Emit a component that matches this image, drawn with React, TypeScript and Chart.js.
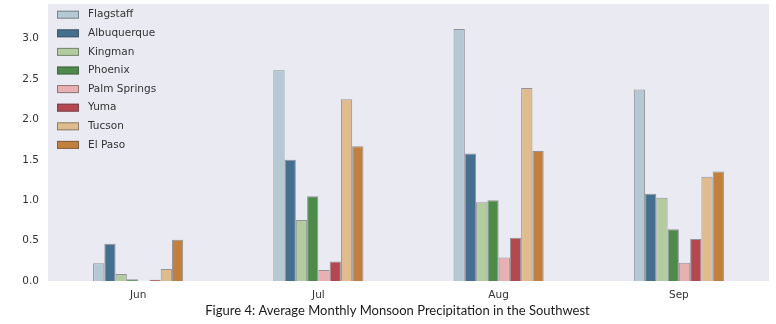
import React, { useEffect, useRef } from "react";
import { Chart, registerables } from "chart.js";

Chart.register(...registerables);

const months = ["Jun", "Jul", "Aug", "Sep"];
const cities = ["Flagstaff", "Albuquerque", "Kingman", "Phoenix", "Palm Springs", "Yuma", "Tucson", "El Paso"];
const flagstaff = [0.22, 2.61, 3.12, 2.37];
const albuquerque = [0.46, 1.5, 1.58, 1.08];
const kingman = [0.087, 0.755, 0.975, 1.03];
const phoenix = [0.021, 1.05, 1.0, 0.64];
const palmSprings = [0.0, 0.136, 0.29, 0.226];
const yuma = [0.016, 0.24, 0.535, 0.52];
const tucson = [0.148, 2.25, 2.39, 1.29];
const elPaso = [0.51, 1.67, 1.61, 1.355];
const cityColors = ["#b5c9d5", "#456f8f", "#b3cc9f", "#4e8a4a", "#e8b0b0", "#b4474f", "#dfbb8e", "#c27f3e"];
const yTickValues = [0, 0.5, 1.0, 1.5, 2.0, 2.5, 3.0];
const yMax = 3.43;
const caption = "Figure 4: Average Monthly Monsoon Precipitation in the Southwest";

const seriesValues = [flagstaff, albuquerque, kingman, phoenix, palmSprings, yuma, tucson, elPaso];

const TEXT_FONT = "DejaVu Sans";
const TEXT_COLOR = "#333333";
const BORDER = "rgba(60,60,60,0.5)";

export default function App() {
  const canvasRef = useRef<HTMLCanvasElement | null>(null);

  useEffect(() => {
    document.body.style.margin = "0";
    const canvas = canvasRef.current;
    if (!canvas) return;

    const bgPlugin = {
      id: "bg",
      beforeDraw(chart: any) {
        const { ctx, chartArea } = chart;
        ctx.save();
        ctx.fillStyle = "#eaeaf2";
        ctx.fillRect(chartArea.left, chartArea.top, chartArea.right - chartArea.left, chartArea.bottom - chartArea.top);
        ctx.restore();
      },
    };

    const legendPlugin = {
      id: "customLegend",
      afterDatasetsDraw(chart: any) {
        const { ctx } = chart;
        ctx.save();
        ctx.font = `10.5px "${TEXT_FONT}"`;
        ctx.textBaseline = "middle";
        ctx.textAlign = "left";
        cities.forEach((name, i) => {
          const cy = 14.7 + i * 18.6;
          ctx.fillStyle = cityColors[i];
          ctx.fillRect(57, cy - 4, 22, 8);
          ctx.strokeStyle = BORDER;
          ctx.lineWidth = 1;
          ctx.strokeRect(57.5, cy - 3.5, 21, 7);
          ctx.fillStyle = TEXT_COLOR;
          ctx.fillText(name, 88, cy);
        });
        ctx.restore();
      },
    };

    const captionPlugin = {
      id: "caption",
      afterDraw(chart: any) {
        const { ctx } = chart;
        ctx.save();
        ctx.font = `14px Lato`;
        const w = ctx.measureText(caption).width;
        const size = (14 * 385) / w;
        ctx.font = `${size.toFixed(2)}px Lato`;
        ctx.fillStyle = "#1a1a1a";
        ctx.textAlign = "center";
        ctx.textBaseline = "middle";
        ctx.fillText(caption, 397.5, 311);
        ctx.restore();
      },
    };

    const chart = new Chart(canvas, {
      type: "bar",
      data: {
        labels: months,
        datasets: cities.map((name, i) => ({
          label: name,
          data: seriesValues[i],
          backgroundColor: cityColors[i],
          borderColor: BORDER,
          borderWidth: 1,
          categoryPercentage: 0.5,
          barPercentage: 1.0,
        })),
      },
      options: {
        responsive: false,
        animation: false,
        devicePixelRatio: 1,
        layout: { padding: { left: 0, right: 7, top: 4, bottom: 0 } },
        plugins: {
          legend: { display: false },
          tooltip: { enabled: false },
          title: { display: false },
        },
        scales: {
          x: {
            grid: { display: false, drawTicks: false },
            border: { display: false },
            ticks: {
              color: TEXT_COLOR,
              font: { family: TEXT_FONT, size: 10.5 },
              padding: 8,
            },
            afterFit(scale: any) {
              scale.height = 43;
              scale.paddingLeft = 0;
              scale.paddingRight = 0;
            },
          },
          y: {
            min: 0,
            max: yMax,
            grid: { display: false, drawTicks: false },
            border: { display: false },
            ticks: {
              color: TEXT_COLOR,
              font: { family: TEXT_FONT, size: 10.5 },
              padding: 9,
              callback: (v: any) => Number(v).toFixed(1),
            },
            afterBuildTicks(scale: any) {
              scale.ticks = yTickValues.map((v) => ({ value: v }));
            },
            afterFit(scale: any) {
              scale.width = 48;
              scale.paddingTop = 0;
              scale.paddingBottom = 0;
            },
          },
        },
      },
      plugins: [bgPlugin, legendPlugin, captionPlugin],
    });

    return () => chart.destroy();
  }, []);

  return (
    <div style={{ width: 776, height: 324 }}>
      <canvas ref={canvasRef} width={776} height={324} style={{ display: "block" }} />
    </div>
  );
}
